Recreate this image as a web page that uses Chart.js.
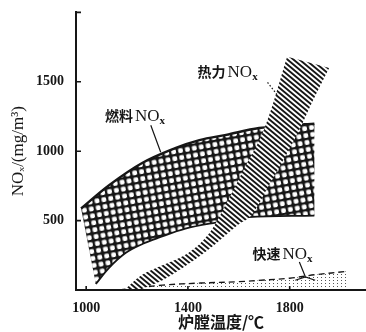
<!DOCTYPE html>
<html>
<head>
<meta charset="utf-8">
<script src="https://cdn.jsdelivr.net/npm/chart.js@4.4.1/dist/chart.umd.min.js"></script>
<style>
  html, body { margin: 0; background: #fff; }
</style>
</head>
<body>
<canvas id="nox" width="366" height="332"></canvas>
<script>
// furnace temperature (°C) and NOx (mg/m3)
const fuelUpperT = [980, 1090, 1220, 1350, 1445, 1550, 1680, 1860, 1897];
const fuelUpper  = [587, 755, 915, 1022, 1080, 1118, 1167, 1195, 1198];
const fuelLowerT = [1038, 1090, 1156, 1223, 1285, 1390, 1510, 1640, 1897];
const fuelLower  = [43, 160, 268, 333, 377, 442, 486, 525, 536];

const thermalLeftT  = [1150, 1220, 1300, 1400, 1480, 1550, 1620, 1700, 1790];
const thermalLeft   = [0, 110, 178, 265, 400, 620, 870, 1160, 1680];
const thermalRightT = [1210, 1300, 1380, 1480, 1590, 1650, 1720, 1800, 1850, 1885, 1955];
const thermalRight  = [0, 70, 160, 290, 460, 540, 760, 1020, 1200, 1340, 1600];

const promptUpperT = [1130, 1300, 1450, 1600, 1700, 1800, 1900, 2030];
const promptUpper  = [0, 35, 50, 60, 72, 85, 110, 135];
const promptLowerT = [1130, 2030];
const promptLower  = [0, 0];

const tempTicks = [1000, 1400, 1800];
const noxTicks = [500, 1000, 1500];

const INK = '#161616';

function pts(ts, vs) {
    return ts.map((t, i) => ({ x: t, y: vs[i] }));
}

// closed outline: top edge left->right, bottom edge right->left
// corners are repeated so the spline keeps them sharp
function band(upT, upV, loT, loV) {
    const top = pts(upT, upV);
    const bottom = pts(loT, loV).reverse();
    return [top[0], ...top, top[top.length - 1], bottom[0], ...bottom, bottom[bottom.length - 1]];
}

function makePattern(w, h, draw) {
    const c = document.createElement('canvas');
    c.width = w;
    c.height = h;
    const g = c.getContext('2d');
    g.fillStyle = '#fff';
    g.fillRect(0, 0, w, h);
    g.fillStyle = INK;
    g.strokeStyle = INK;
    draw(g, w, h);
    return g.createPattern(c, 'repeat');
}

const ctx0 = document.getElementById('nox').getContext('2d');

// fuel NOx: black mesh, slightly turned
const meshFill = makePattern(7, 7, (g, w, h) => {
    g.fillRect(0, 0, w, 2.3);
    g.fillRect(0, 0, 2.3, h);
    // small fillets so the holes look rounded
    g.fillRect(2.3, 2.3, 0.8, 0.8);
    g.fillRect(w - 0.8, 2.3, 0.8, 0.8);
    g.fillRect(2.3, h - 0.8, 0.8, 0.8);
    g.fillRect(w - 0.8, h - 0.8, 0.8, 0.8);
});
meshFill.setTransform(new DOMMatrix().rotate(-10));

// thermal NOx: "\" hatching
const hatchFill = makePattern(6, 5, (g, w, h) => {
    g.lineWidth = 1.9;
    g.beginPath();
    [-w, 0, w].forEach(dx => {
        g.moveTo(dx - w, -h);
        g.lineTo(dx + 2 * w, 2 * h);
    });
    g.stroke();
});

// prompt NOx: sparse dots
const dotFill = makePattern(4, 3, (g) => {
    g.fillStyle = '#555';
    g.fillRect(1, 1, 1, 1);
});

const inwardTicks = {
    id: 'inwardTicks',
    afterDraw(chart) {
        const { ctx, chartArea: a, scales: { x, y } } = chart;
        ctx.save();
        ctx.strokeStyle = INK;
        ctx.lineWidth = 1.6;
        ctx.beginPath();
        [...noxTicks, y.max].forEach(v => {
            const py = y.getPixelForValue(v);
            ctx.moveTo(a.left, py);
            ctx.lineTo(a.left + 5, py);
        });
        tempTicks.forEach(v => {
            const px = x.getPixelForValue(v);
            ctx.moveTo(px, a.bottom);
            ctx.lineTo(px, a.bottom - 4);
        });
        ctx.stroke();
        ctx.restore();
    }
};

function noxLabel(ctx, cn, px, py) {
    ctx.textAlign = 'left';
    ctx.textBaseline = 'alphabetic';
    ctx.font = 'bold 14px "Noto Sans CJK SC"';
    ctx.fillText(cn, px, py);
    let w = ctx.measureText(cn).width + 2;
    ctx.font = '17px "Liberation Serif"';
    ctx.fillText('NO', px + w, py);
    w += ctx.measureText('NO').width;
    ctx.font = 'bold 11px "Liberation Serif"';
    ctx.fillText('x', px + w, py + 3);
}

const noteLabels = {
    id: 'noteLabels',
    afterDraw(chart) {
        const { ctx, scales: { x, y } } = chart;
        const P = (t, v) => [x.getPixelForValue(t), y.getPixelForValue(v)];
        ctx.save();
        ctx.fillStyle = INK;
        ctx.strokeStyle = INK;

        noxLabel(ctx, '燃料', ...P(1074, 1216));
        noxLabel(ctx, '热力', ...P(1438, 1532));
        noxLabel(ctx, '快速', ...P(1654, 223));

        ctx.lineWidth = 1.2;
        ctx.beginPath();
        ctx.moveTo(...P(1254, 1187));
        ctx.lineTo(...P(1293, 993));
        ctx.moveTo(...P(1838, 201));
        ctx.lineTo(...P(1862, 94));
        ctx.moveTo(...P(1822, 70));
        ctx.lineTo(...P(1862, 94));
        ctx.lineTo(...P(1900, 70));
        ctx.stroke();

        ctx.setLineDash([1.5, 2]);
        ctx.beginPath();
        ctx.moveTo(...P(1713, 1496));
        ctx.lineTo(...P(1752, 1403));
        ctx.stroke();
        ctx.restore();
    }
};

const edge = {
    fill: false,
    borderColor: INK,
    pointRadius: 0,
    tension: 0.35
};

const tickFont = { family: '"Liberation Serif"', size: 14, weight: 'bold' };

new Chart(ctx0, {
    type: 'line',
    data: {
        datasets: [
            {
                label: '热力NOx',
                data: band(thermalLeftT, thermalLeft, thermalRightT, thermalRight),
                fill: 'shape',
                backgroundColor: hatchFill,
                borderWidth: 0,
                pointRadius: 0,
                tension: 0.35,
                order: 1
            },
            { ...edge, label: '燃料NOx top', data: pts(fuelUpperT, fuelUpper), borderWidth: 2.4, order: 2 },
            { ...edge, label: '燃料NOx bottom', data: pts(fuelLowerT, fuelLower), borderWidth: 1.8, order: 2 },
            {
                label: '燃料NOx',
                data: band(fuelUpperT, fuelUpper, fuelLowerT, fuelLower),
                fill: 'shape',
                backgroundColor: meshFill,
                borderWidth: 0,
                pointRadius: 0,
                tension: 0.35,
                order: 3
            },
            {
                ...edge,
                label: '快速NOx top',
                data: pts(promptUpperT, promptUpper),
                borderWidth: 1.4,
                borderDash: [6, 4],
                order: 4
            },
            {
                label: '快速NOx',
                data: band(promptUpperT, promptUpper, promptLowerT, promptLower),
                fill: 'shape',
                backgroundColor: dotFill,
                borderWidth: 0,
                pointRadius: 0,
                tension: 0.35,
                order: 5
            }
        ]
    },
    options: {
        responsive: false,
        devicePixelRatio: 1,
        animation: false,
        layout: { padding: { top: 12, right: 0, left: 0, bottom: 0 } },
        plugins: {
            legend: { display: false },
            tooltip: { enabled: false }
        },
        scales: {
            x: {
                type: 'linear',
                min: 960,
                max: 2100,
                afterBuildTicks: s => { s.ticks = tempTicks.map(v => ({ value: v })); },
                afterFit: s => { s.height = 42; },
                grid: { display: false },
                border: { display: true, color: INK, width: 2, z: 1 },
                ticks: {
                    color: INK,
                    padding: 2,
                    maxRotation: 0,
                    font: tickFont,
                    callback: v => String(v)
                },
                title: {
                    display: true,
                    text: '炉膛温度/℃',
                    color: INK,
                    padding: { top: 0, bottom: 0 },
                    font: { family: '"Noto Sans CJK SC"', size: 16, weight: 'bold' }
                }
            },
            y: {
                min: 0,
                max: 2000,
                afterBuildTicks: s => { s.ticks = noxTicks.map(v => ({ value: v })); },
                afterFit: s => { s.width = 76; },
                grid: { display: false },
                border: { display: true, color: INK, width: 2, z: 1 },
                ticks: {
                    color: INK,
                    padding: 4,
                    font: tickFont,
                    callback: v => String(v)
                },
                title: {
                    display: true,
                    text: 'NOₓ/(mg/m³)',
                    color: INK,
                    padding: { top: 8, bottom: 0 },
                    font: { family: '"Liberation Serif"', size: 17 }
                }
            }
        }
    },
    plugins: [inwardTicks, noteLabels]
});
</script>
</body>
</html>
